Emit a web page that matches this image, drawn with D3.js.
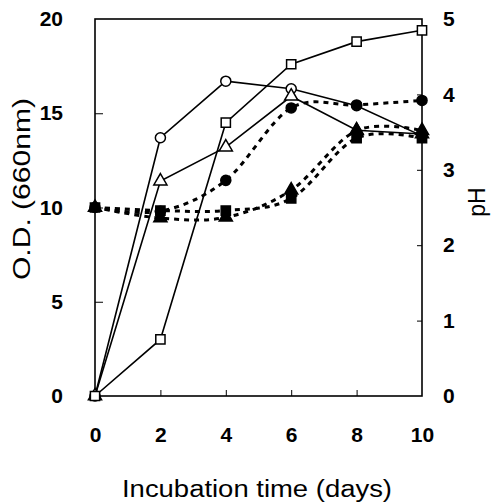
<!DOCTYPE html>
<html>
<head>
<meta charset="utf-8">
<script src="https://cdn.jsdelivr.net/npm/d3@7"></script>
<style>
  body { margin: 0; background: #fff; }
  svg { display: block; font-family: "Liberation Sans", Arial, sans-serif; }
</style>
</head>
<body>
<div id="chart"></div>
<script>
// incubation days
var days = [0, 2, 4, 6, 8, 10];

// O.D. (660nm), left axis - open markers, solid lines
var odSquare   = [0, 3.0, 14.5, 17.6, 18.8, 19.4];
var odCircle   = [0, 13.7, 16.7, 16.3, 15.4, 13.8];
var odTriangle = [0, 11.4, 13.2, 15.9, 14.1, 13.9];

// pH, right axis - filled markers, dotted lines
var phCircle   = [2.5, 2.45, 2.86, 3.82, 3.86, 3.92];
var phTriangle = [2.5, 2.36, 2.37, 2.73, 3.52, 3.52];
var phSquare   = [2.5, 2.46, 2.46, 2.62, 3.42, 3.42];

var xTicks = [0, 2, 4, 6, 8, 10];
var odTicks = [0, 5, 10, 15, 20];
var phTicks = [0, 1, 2, 3, 4, 5];

var W = 495, H = 504;
var margin = {top: 19, right: 73, bottom: 108, left: 95};
var w = W - margin.left - margin.right;
var h = H - margin.top - margin.bottom;

var svg = d3.select("#chart").append("svg")
    .attr("width", W)
    .attr("height", H);
var g = svg.append("g").attr("transform", `translate(${margin.left},${margin.top})`);

var x = d3.scaleLinear().domain([0, 10]).range([0, w]);
var yL = d3.scaleLinear().domain([0, 20]).range([h, 0]);
var yR = d3.scaleLinear().domain([0, 5]).range([h, 0]);

// axes (ticks point inward)
var xAxis = g.append("g").attr("transform", `translate(0,${h})`)
    .call(d3.axisBottom(x).tickValues(xTicks).tickFormat(d3.format("d")).tickSizeInner(-6).tickSizeOuter(0).tickPadding(31));
var lAxis = g.append("g")
    .call(d3.axisLeft(yL).tickValues(odTicks).tickFormat(d3.format("d")).tickSizeInner(-8).tickSizeOuter(0).tickPadding(32));
var rAxis = g.append("g").attr("transform", `translate(${w},0)`)
    .call(d3.axisRight(yR).tickValues(phTicks).tickFormat(d3.format("d")).tickSizeInner(-5).tickSizeOuter(0).tickPadding(21));

[xAxis, lAxis, rAxis].forEach(a => {
    a.select(".domain").remove();
    a.selectAll("line").attr("stroke", "#000").attr("stroke-width", 1);
    a.selectAll("text")
        .attr("font-family", "Liberation Sans, Arial, sans-serif")
        .attr("font-size", 21)
        .attr("font-weight", "bold")
        .attr("fill", "#000");
});
// no tick marks at the frame corners
xAxis.selectAll(".tick line").filter(d => d == 0 || d == 10).remove();
lAxis.selectAll(".tick line").filter(d => d == 0 || d == 20).remove();
rAxis.selectAll(".tick line").filter(d => d == 0 || d == 5).remove();

// plot frame
g.append("rect")
    .attr("x", 0).attr("y", 0)
    .attr("width", w).attr("height", h)
    .attr("fill", "none")
    .attr("stroke", "#000")
    .attr("stroke-width", 1.6);

var solid = d3.line().x((d, i) => x(days[i])).y(d => yL(d));
var dotted = d3.line().x((d, i) => x(days[i])).y(d => yR(d)).curve(d3.curveCardinal.tension(0));

// pH lines
[phCircle, phTriangle, phSquare].forEach(s => {
    g.append("path")
        .attr("d", dotted(s))
        .attr("fill", "none")
        .attr("stroke", "#000")
        .attr("stroke-width", 3)
        .attr("stroke-dasharray", "5,5");
});

// O.D. lines
[odSquare, odCircle, odTriangle].forEach(s => {
    g.append("path")
        .attr("d", solid(s))
        .attr("fill", "none")
        .attr("stroke", "#000")
        .attr("stroke-width", 1.6);
});

function marker(sel, shape, filled) {
    var sym = shape == "circle" ? d3.symbolCircle : shape == "square" ? d3.symbolSquare : d3.symbolTriangle;
    var size = shape == "circle" ? 80 : shape == "square" ? 85 : 75;
    sel.append("path")
        .attr("d", d3.symbol().type(sym).size(size))
        .attr("fill", filled ? "#000" : "#fff")
        .attr("stroke", "#000")
        .attr("stroke-width", 1.5);
}

function drawPoints(vals, scale, shape, filled) {
    g.append("g").selectAll("g")
        .data(vals)
        .enter().append("g")
        .attr("transform", (d, i) => `translate(${x(days[i])},${scale(d)})`)
        .call(sel => marker(sel, shape, filled));
}

drawPoints(odCircle, yL, "circle", false);
drawPoints(odTriangle, yL, "triangle", false);
drawPoints(odSquare, yL, "square", false);
drawPoints(phCircle, yR, "circle", true);
drawPoints(phTriangle, yR, "triangle", true);
drawPoints(phSquare, yR, "square", true);

// axis titles
svg.append("text")
    .attr("transform", "translate(30,189) rotate(-90)")
    .attr("text-anchor", "middle")
    .attr("font-size", 23)
    .attr("textLength", 182)
    .attr("lengthAdjust", "spacingAndGlyphs")
    .text("O.D. (660nm)");

svg.append("text")
    .attr("transform", "translate(485,202) rotate(-90)")
    .attr("text-anchor", "middle")
    .attr("font-size", 23)
    .text("pH");

svg.append("text")
    .attr("x", 257)
    .attr("y", 497)
    .attr("text-anchor", "middle")
    .attr("font-size", 23)
    .attr("textLength", 270)
    .attr("lengthAdjust", "spacingAndGlyphs")
    .text("Incubation time (days)");
</script>
</body>
</html>
